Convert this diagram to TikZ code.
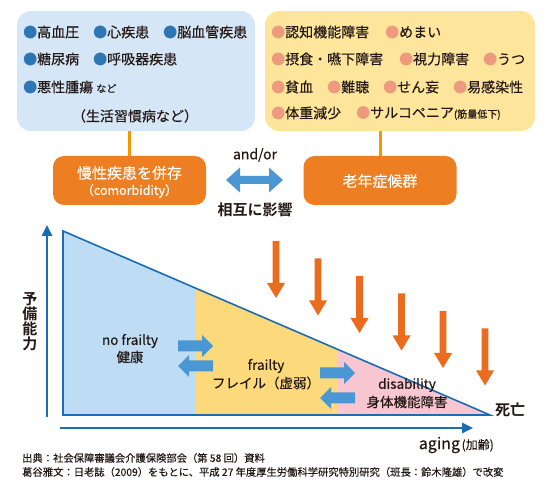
\documentclass[tikz,border=0pt]{standalone}
\usepackage{fontspec}
\newfontfamily\jp{Noto Sans CJK JP}[FakeBold=0.3]
\newfontfamily\jpb{Noto Sans CJK JP Bold}
\usetikzlibrary{calc,arrows.meta}
\definecolor{txt}{HTML}{231815}
\definecolor{boxblue}{HTML}{D5E6F6}
\definecolor{boxyellow}{HTML}{FDE69B}
\definecolor{bblue}{HTML}{2E75B6}
\definecolor{bsalmon}{HTML}{EE9A7E}
\definecolor{orbox}{HTML}{EE7E22}
\definecolor{orline}{HTML}{F39800}
\definecolor{orarrow}{HTML}{EC6C1F}
\definecolor{arrblue}{HTML}{4B97D3}
\definecolor{axblue}{HTML}{1A6CB5}
\definecolor{rblue}{HTML}{BEDDF4}
\definecolor{ryellow}{HTML}{FCDA7C}
\definecolor{rpink}{HTML}{F7C6D0}
\newcommand\jpsz[1]{\fontsize{#1}{#1}\selectfont}
\tikzset{
  every node/.style={font=\jp, text=txt, inner sep=0pt},
  infobox/.style={rounded corners=14pt, minimum height=120pt},
  item/.style={anchor=west, font=\jp\jpsz{14}},
  obox/.style={fill=orbox, rounded corners=11pt, minimum width=153pt, minimum height=49pt},
  conn/.style={draw=orline, line width=3pt},
  axis/.style={draw=axblue, line width=2.6pt, -{Triangle[length=11pt,width=10pt]}},
  rarrow/.pic={\fill[arrblue] (0,-5.5) -- (24,-5.5) -- (24,-11) -- (35,0) -- (24,11) -- (24,5.5) -- (0,5.5) -- cycle;},
  larrow/.pic={\fill[arrblue] (35,-5.5) -- (11,-5.5) -- (11,-11) -- (0,0) -- (11,11) -- (11,5.5) -- (35,5.5) -- cycle;},
  darrow/.pic={\fill[orarrow] (-3.4,0) -- (-3.4,42) -- (-9,42) -- (0,57) -- (9,42) -- (3.4,42) -- (3.4,0) -- cycle;},
  dblarrow/.pic={\fill[arrblue] (-28.5,0) -- (-14.5,-12.5) -- (-14.5,-4) -- (14.5,-4) -- (14.5,-12.5) -- (28.5,0) -- (14.5,12.5) -- (14.5,4) -- (-14.5,4) -- (-14.5,12.5) -- cycle;},
}
\newcommand\bb{{\color{bblue}●}}
\newcommand\bs{{\color{bsalmon}●}}
\begin{document}
\begin{tikzpicture}[x=1pt,y=-1pt]
\useasboundingbox (0,0) rectangle (550,492);
% info boxes
\node[infobox, fill=boxblue, minimum width=238pt] (bluebox) at (136,71) {};
\node[infobox, fill=boxyellow, minimum width=270pt] (yellowbox) at (400,71) {};
% blue box items
\node[item] (i1) at (23,32) {\bb 高血圧};
\node[item] (i2) at (93,32) {\bb 心疾患};
\node[item] (i3) at (163,32) {\bb 脳血管疾患};
\node[item] (i4) at (23,59) {\bb 糖尿病};
\node[item] (i5) at (93,59) {\bb 呼吸器疾患};
\node[item] (i6) at (23,87) {\bb 悪性腫瘍 {\jpsz{10}など}};
\node[font=\jp\jpsz{14}] (i7) at (135,116) {（生活習慣病など）};
% yellow box items
\node[item] (g1) at (271,32) {\bs 認知機能障害};
\node[item] (g2) at (385,32) {\bs めまい};
\node[item] (g3) at (271,59) {\bs 摂食・嚥下障害};
\node[item] (g4) at (399,59) {\bs 視力障害};
\node[item] (g5) at (483,59) {\bs うつ};
\node[item] (g6) at (271,87) {\bs 貧血};
\node[item] (g7) at (327,87) {\bs 難聴};
\node[item] (g8) at (383,87) {\bs せん妄};
\node[item] (g9) at (453,87) {\bs 易感染性};
\node[item] (g10) at (271,113) {\bs 体重減少};
\node[item] (g11) at (356,113) {\bs サルコペニア{\jpsz{10}(筋量低下)}};
% orange boxes
\node[obox] (comorb) at (129.5,180.5) {};
\node[obox] (geri) at (380,180.5) {};
\node[font=\jp\jpsz{15}, text=white] (comorbt1) at (129.5,173) {慢性疾患を併存};
\node[font=\jp\jpsz{12.5}, text=white] (comorbt2) at (129.5,191) {（comorbidity）};
\node[font=\jp\jpsz{15}, text=white] (gerit) at (380,181) {老年症候群};
\draw[conn] (comorb.north) -- (comorb.north |- bluebox.south);
\draw[conn] (geri.north) -- (geri.north |- yellowbox.south);
\pic at (254.5,180) {dblarrow};
\node[font=\jp\jpsz{14}] (andor) at (255,155) {and/or};
\node[font=\jpb\jpsz{15}] (mutual) at (255,210) {相互に影響};
% graph regions
\coordinate (A) at (63,231);
\coordinate (B) at (63,415);
\coordinate (C) at (490,415);
\coordinate (P) at ($(A)!0.3115!(C)$);
\coordinate (Q) at ($(A)!0.644!(C)$);
\fill[rblue] (A) -- (P) -- (P |- B) -- (B) -- cycle;
\fill[ryellow] (P) -- (Q) -- (Q |- B) -- (P |- B) -- cycle;
\fill[rpink] (Q) -- (C) -- (Q |- B) -- cycle;
\draw[axblue, line width=1.6pt, line join=miter] (A) -- (C) -- (B) -- cycle;
% axes
\coordinate (yb) at (47,417);
\coordinate (yt) at (47,225);
\coordinate (xl) at (60,428);
\coordinate (xr) at (473,428);
\draw[axis] (yb) -- (yt);
\draw[axis] (xl) -- (xr);
\node[font=\jpb\jpsz{15}, align=center] (reserve) at (30,322) {予\\[0pt]備\\[0pt]能\\[0pt]力};
\node[anchor=east] (aging) at (494,445) {{\jpsz{16}aging}\,{\jpsz{12}(加齢)}};
\node[font=\jpb\jpsz{15}] (death) at (510,410) {死亡};
% stage labels
\node[font=\jp\jpsz{13.5}] (nf1) at (130,341) {no frailty};
\node[font=\jp\jpsz{13.5}] (nf2) at (130,357) {健康};
\node[font=\jp\jpsz{13.5}] (fr1) at (266,366) {frailty};
\node[font=\jp\jpsz{13.5}] (fr2) at (266,383) {フレイル（虚弱）};
\node[font=\jp\jpsz{13.5}] (ds1) at (407,385) {disability};
\node[font=\jp\jpsz{13.5}] (ds2) at (407,402) {身体機能障害};
% transition arrows
\pic at (178,346) {rarrow};
\pic at (178,366) {larrow};
\pic at (320,373) {rarrow};
\pic at (320,398) {larrow};
% orange down arrows
\pic at (276,241) {darrow};
\pic at (318,258.5) {darrow};
\pic at (359.5,276) {darrow};
\pic at (401.5,293.5) {darrow};
\pic at (443,311) {darrow};
\pic at (485,328.5) {darrow};
% sources
\node[anchor=west, font=\jp\jpsz{10.3}] (src1) at (22,458) {出典：社会保障審議会介護保険部会（第 58 回）資料};
\node[anchor=west, font=\jp\jpsz{10.3}] (src2) at (22,472) {葛谷雅文：日老誌（2009）をもとに、平成 27 年度厚生労働科学研究特別研究（班長：鈴木隆雄）で改変};
\end{tikzpicture}
\end{document}
